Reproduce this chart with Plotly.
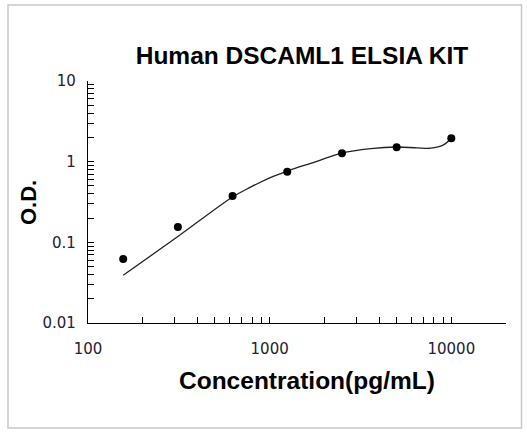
import plotly.graph_objects as go

# Standard points
conc = [156.25, 312.5, 625, 1250, 2500, 5000, 10000]
od = [0.062, 0.155, 0.376, 0.75, 1.27, 1.51, 1.95]

# Fitted curve
fit_conc = [156.25, 312.5, 625, 780, 1000, 1250, 1800, 2500, 3600, 5000, 6500, 7700, 9000, 10000]
fit_od = [0.039, 0.118, 0.365, 0.48, 0.63, 0.765, 1.0, 1.28, 1.45, 1.52, 1.48, 1.47, 1.6, 1.95]

x_tickvals = [100, 1000, 10000]
x_ticktext = ["100", "1000", "10000"]
y_tickvals = [0.01, 0.1, 1, 10]
y_ticktext = ["0.01", "0.1", "1", "10"]

title_text = "Human DSCAML1 ELSIA KIT"
x_title = "Concentration(pg/mL)"
y_title = "O.D."

W, H = 527, 432
ML, MR, MT, MB = 88, 21, 81, 109
PW, PH = W - ML - MR, H - MT - MB


def px_x(p):
    return (p - ML) / PW


def px_y(p):
    return (H - MB - p) / PH


fig = go.Figure()
fig.add_trace(go.Scatter(x=fit_conc, y=fit_od, mode="lines",
                         line=dict(color="#222222", width=1.3, shape="spline", smoothing=1.0),
                         showlegend=False, hoverinfo="skip"))
fig.add_trace(go.Scatter(x=conc, y=od, mode="markers",
                         marker=dict(color="black", size=8),
                         showlegend=False))

tickfont = dict(family="DejaVu Sans", size=15, color="#222233")
axis_common = dict(
    type="log", showgrid=False, zeroline=False,
    showline=True, linecolor="black", linewidth=1.3,
    ticks="inside", ticklen=6, tickcolor="black", tickwidth=1,
    minor=dict(dtick="D1", ticks="inside", ticklen=6, tickcolor="black", tickwidth=1, showgrid=False),
    tickfont=tickfont,
)

fig.update_xaxes(range=[2, 4.301], tickmode="array", tickvals=x_tickvals, ticktext=x_ticktext,
                 ticklabelstandoff=12, **axis_common)
fig.update_yaxes(range=[-2, 1], tickmode="array", tickvals=y_tickvals, ticktext=y_ticktext,
                 ticklabelstandoff=8, **axis_common)

fig.update_layout(
    width=W, height=H,
    margin=dict(l=ML, r=MR, t=MT, b=MB),
    paper_bgcolor="white", plot_bgcolor="white",
    title=dict(text="<b>" + title_text + "</b>", x=302 / W, xref="container", xanchor="center",
               y=1 - 55 / H, yanchor="middle",
               font=dict(family="Liberation Sans", size=24.5, color="black")),
    shapes=[dict(type="rect", xref="paper", yref="paper", x0=px_x(8), x1=px_x(521.5),
                 y0=px_y(428), y1=px_y(5),
                 line=dict(color="#c8c8c8", width=1.5), fillcolor="rgba(0,0,0,0)", layer="below")],
    annotations=[
        dict(text="<b>" + x_title + "</b>", xref="paper", yref="paper", x=px_x(307), y=px_y(380),
             xanchor="center", yanchor="middle", showarrow=False,
             font=dict(family="Liberation Sans", size=24.5, color="black")),
        dict(text="<b>" + y_title + "</b>", xref="paper", yref="paper", x=px_x(28), y=px_y(203),
             xanchor="center", yanchor="middle", showarrow=False, textangle=-90,
             font=dict(family="Liberation Sans", size=22, color="black")),
    ],
)

fig.write_html("out.html", config={"displayModeBar": False},
               post_script="document.body.style.margin='0';")
